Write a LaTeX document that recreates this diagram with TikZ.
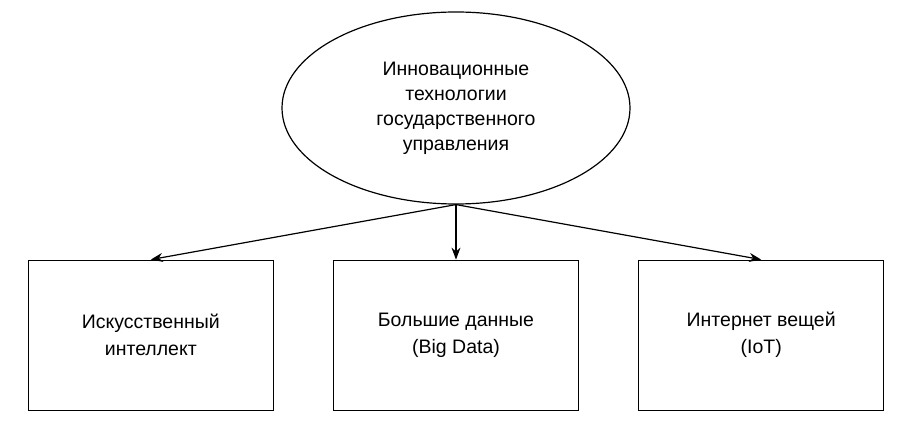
\documentclass[tikz,border=0pt]{standalone}
\usepackage{fontspec}
\setmainfont{Liberation Sans}
\usetikzlibrary{arrows.meta,positioning,shapes.geometric}

\begin{document}
\begin{tikzpicture}[x=1pt,y=1pt,>={Stealth[length=12pt,width=9pt]},
  font=\fontsize{19.5}{25}\selectfont,line width=1.2pt,
  oval/.style={draw,ellipse,align=center,inner sep=0pt,minimum width=348pt,minimum height=192pt},
  blk/.style={draw,align=center,minimum width=245pt,minimum height=150pt,
    font=\fontsize{19.5}{27}\selectfont}]
\useasboundingbox (0,0) rectangle (911,442);
\node[oval] (itech) at (456,334) {Инновационные\\технологии\\государственного\\управления};
\node[blk,below=55pt of itech] (bigdata) {Большие данные\\(Big Data)};
\node[blk,left=59pt of bigdata] (ai) {Искусственный\\интеллект};
\node[blk,right=59pt of bigdata] (iot) {Интернет вещей\\(IoT)};
\draw[->] (itech.south)--(ai.north); \draw[->] (itech.south)--(bigdata.north);
\draw[->] (itech.south)--(iot.north);
\end{tikzpicture}
\end{document}
